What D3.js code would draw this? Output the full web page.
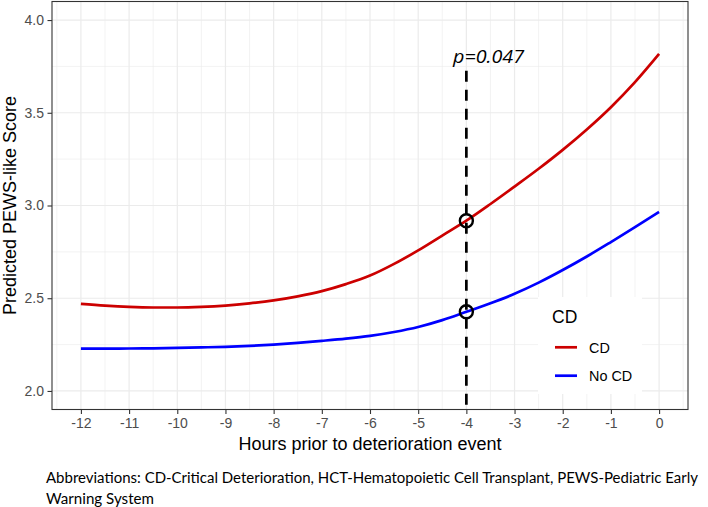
<!DOCTYPE html>
<html><head><meta charset="utf-8">
<script src="https://cdn.jsdelivr.net/npm/d3@7/dist/d3.min.js"></script>
<style>body{margin:0;background:#fff}</style>
</head><body><svg id="c" width="708" height="507"></svg>
<script>
// ---- data ----
const hours = [-12,-11.5,-11,-10.5,-10,-9.5,-9,-8.5,-8,-7.5,-7,-6.5,-6,-5.5,-5,-4.5,-4,-3.5,-3,-2.5,-2,-1.5,-1,-0.5,0];
const cdValues = [2.470,2.460,2.453,2.450,2.450,2.453,2.460,2.472,2.488,2.510,2.538,2.576,2.622,2.685,2.758,2.838,2.918,3.008,3.102,3.198,3.300,3.410,3.530,3.665,3.817];
const noCdValues = [2.228,2.228,2.229,2.230,2.232,2.235,2.238,2.243,2.250,2.259,2.270,2.282,2.297,2.318,2.345,2.382,2.427,2.473,2.524,2.584,2.652,2.725,2.803,2.883,2.965];
const seriesNames = ["CD","No CD"];
const xTicks = [-12,-11,-10,-9,-8,-7,-6,-5,-4,-3,-2,-1,0];
const xMinor = [-12.5,-11.5,-10.5,-9.5,-8.5,-7.5,-6.5,-5.5,-4.5,-3.5,-2.5,-1.5,-0.5,0.5];
const yTicks = [2.0,2.5,3.0,3.5,4.0];
const yMinor = [2.25,2.75,3.25,3.75];
const markHour = -4;
const pLabel = "p=0.047";
const xTitle = "Hours prior to deterioration event";
const yTitle = "Predicted PEWS-like Score";
const legendTitle = "CD";
const noteLines = ["Abbreviations: CD-Critical Deterioration, HCT-Hematopoietic Cell Transplant, PEWS-Pediatric Early","Warning System"];

// ---- styles ----
const colors = ["#CC0000","#0000FF"];
const P = {l:52, r:688, t:1.5, b:409.5};
const svg = d3.select("#c");
const x = d3.scaleLinear().domain([-12.6,0.6]).range([P.l,P.r]);
const y = d3.scaleLinear().domain([1.9,4.1]).range([P.b,P.t]);
const sans = "'Liberation Sans', Arial, sans-serif";

// grid
const g = svg.append("g");
g.selectAll(".xm").data(xMinor).enter().append("line")
  .attr("x1",d=>x(d)).attr("x2",d=>x(d)).attr("y1",P.t).attr("y2",P.b)
  .attr("stroke","#EBEBEB").attr("stroke-width",0.6);
g.selectAll(".ym").data(yMinor).enter().append("line")
  .attr("y1",d=>y(d)).attr("y2",d=>y(d)).attr("x1",P.l).attr("x2",P.r)
  .attr("stroke","#EBEBEB").attr("stroke-width",0.6);
g.selectAll(".xM").data(xTicks).enter().append("line")
  .attr("x1",d=>x(d)).attr("x2",d=>x(d)).attr("y1",P.t).attr("y2",P.b)
  .attr("stroke","#EBEBEB").attr("stroke-width",1.2);
g.selectAll(".yM").data(yTicks).enter().append("line")
  .attr("y1",d=>y(d)).attr("y2",d=>y(d)).attr("x1",P.l).attr("x2",P.r)
  .attr("stroke","#EBEBEB").attr("stroke-width",1.2);

// legend background (ggplot draws legend inside panel on white)
const lg = {x:538, y:297, w:104, h:97};
svg.append("rect").attr("x",lg.x).attr("y",lg.y).attr("width",lg.w).attr("height",lg.h).attr("fill","#fff");

// lines
const line = d3.line().x(d=>x(d[0])).y(d=>y(d[1])).curve(d3.curveMonotoneX);
[cdValues,noCdValues].forEach((vals,i)=>{
  svg.append("path").datum(hours.map((h,j)=>[h,vals[j]]))
    .attr("d",line).attr("fill","none").attr("stroke",colors[i])
    .attr("stroke-width",2.7).attr("stroke-linecap","butt");
});

// dashed reference line
svg.append("line").attr("x1",x(markHour)).attr("x2",x(markHour))
  .attr("y1",70.7).attr("y2",P.b).attr("stroke","#000").attr("stroke-width",2.7)
  .attr("stroke-dasharray","11,8");
// circles
const mi = hours.indexOf(markHour);
[cdValues[mi],noCdValues[mi]].forEach(v=>{
  svg.append("circle").attr("cx",x(markHour)).attr("cy",y(v)).attr("r",6.5)
    .attr("fill","none").attr("stroke","#000").attr("stroke-width",2.4);
});
svg.append("text").attr("x",453).attr("y",63.3).text(pLabel)
  .attr("font-family","'Open Sans', sans-serif").attr("font-style","italic")
  .attr("font-size",19).attr("textLength",71).attr("lengthAdjust","spacingAndGlyphs");

// panel border
svg.append("rect").attr("x",P.l).attr("y",P.t).attr("width",P.r-P.l).attr("height",P.b-P.t)
  .attr("fill","none").attr("stroke","#333").attr("stroke-width",1.1);

// axes
const ax = svg.append("g").attr("transform",`translate(0,${P.b})`)
  .call(d3.axisBottom(x).tickValues(xTicks).tickFormat(d3.format("d")).tickSize(4.5).tickPadding(4.4));
const ay = svg.append("g").attr("transform",`translate(${P.l},0)`)
  .call(d3.axisLeft(y).tickValues(yTicks).tickFormat(d3.format(".1f")).tickSize(4.5).tickPadding(3.5));
[ax,ay].forEach(a=>{
  a.select(".domain").remove();
  a.selectAll(".tick line").attr("stroke","#333").attr("stroke-width",1.1);
  a.selectAll(".tick text").attr("fill","#4D4D4D").attr("font-size",14).attr("font-family",sans);
});
ax.selectAll(".tick text").text(d=>d<0?"-"+Math.abs(d):d);

// titles
svg.append("text").attr("x",(P.l+P.r)/2).attr("y",450).attr("text-anchor","middle")
  .attr("font-family",sans).attr("font-size",18).text(xTitle);
svg.append("text").attr("transform",`translate(15.5,${(P.t+P.b)/2}) rotate(-90)`)
  .attr("text-anchor","middle").attr("font-family",sans).attr("font-size",18).text(yTitle);

// legend
svg.append("text").attr("x",552).attr("y",322.7).attr("font-family",sans).attr("font-size",17.5).text(legendTitle);
const keyY = [347.3,375.7];
seriesNames.forEach((n,i)=>{
  svg.append("line").attr("x1",555).attr("x2",577).attr("y1",keyY[i]).attr("y2",keyY[i])
    .attr("stroke",colors[i]).attr("stroke-width",2.7);
  svg.append("text").attr("x",589).attr("y",keyY[i]+5.2).attr("font-family",sans)
    .attr("font-size",14.4).text(n);
});

// footnote
const noteW = [652,108];
noteLines.forEach((t,i)=>{
  svg.append("text").attr("x",46).attr("y",483+i*20.5).attr("font-family","Lato, 'Open Sans', sans-serif")
    .attr("font-size",14.8).attr("textLength",noteW[i]).attr("lengthAdjust","spacingAndGlyphs").text(t);
});
</script></body></html>
